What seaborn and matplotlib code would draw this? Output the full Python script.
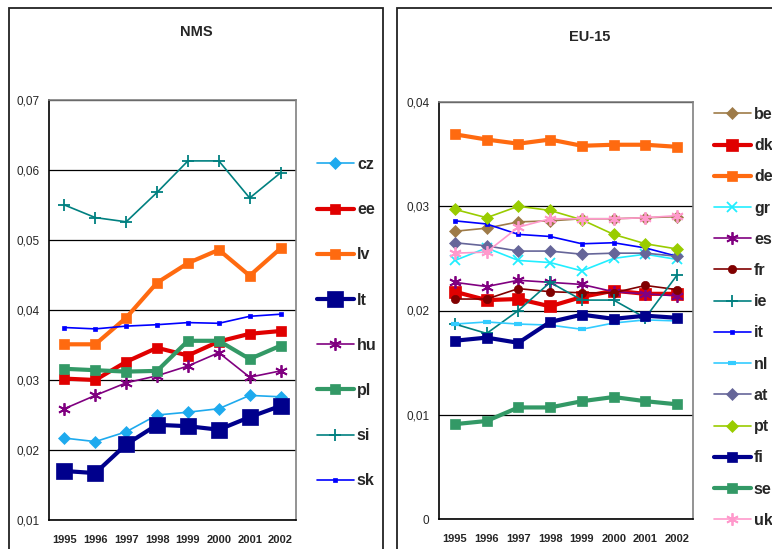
import numpy as np
import pandas as pd
import matplotlib
matplotlib.use("Agg")
import matplotlib.pyplot as plt
import seaborn as sns
from matplotlib import font_manager
from matplotlib.patches import Rectangle
from matplotlib.ticker import FuncFormatter, FixedLocator

years = ["1995", "1996", "1997", "1998", "1999", "2000", "2001", "2002"]

# NMS shares
cz = [0.0217, 0.0212, 0.0226, 0.0250, 0.0254, 0.0259, 0.0278, 0.0276]
ee = [0.0302, 0.0300, 0.0326, 0.0346, 0.0335, 0.0355, 0.0366, 0.0370]
lv = [0.0351, 0.0351, 0.0389, 0.0439, 0.0467, 0.0486, 0.0449, 0.0488]
lt = [0.0170, 0.0167, 0.0208, 0.0236, 0.0234, 0.0229, 0.0247, 0.0263]
hu = [0.0259, 0.0278, 0.0296, 0.0306, 0.0320, 0.0339, 0.0304, 0.0313]
pl = [0.0316, 0.0314, 0.0312, 0.0313, 0.0356, 0.0356, 0.0330, 0.0349]
si = [0.0550, 0.0532, 0.0526, 0.0568, 0.0613, 0.0613, 0.0560, 0.0596]
sk = [0.0375, 0.0373, 0.0377, 0.0379, 0.0382, 0.0381, 0.0391, 0.0394]

# EU-15 shares
be = [0.0276, 0.0279, 0.0285, 0.0286, 0.0288, 0.0288, 0.0289, 0.0290]
dk = [0.0218, 0.0210, 0.0211, 0.0204, 0.0213, 0.0219, 0.0216, 0.0216]
de = [0.0369, 0.0364, 0.0360, 0.0364, 0.0358, 0.0359, 0.0359, 0.0357]
gr = [0.0248, 0.0260, 0.0248, 0.0246, 0.0238, 0.0250, 0.0254, 0.0249]
es = [0.0227, 0.0223, 0.0229, 0.0227, 0.0225, 0.0218, 0.0216, 0.0214]
fr = [0.0211, 0.0211, 0.0221, 0.0218, 0.0217, 0.0217, 0.0224, 0.0220]
ie = [0.0187, 0.0178, 0.0200, 0.0227, 0.0210, 0.0210, 0.0193, 0.0234]
it = [0.0286, 0.0283, 0.0273, 0.0271, 0.0264, 0.0265, 0.0260, 0.0252]
nl = [0.0187, 0.0189, 0.0187, 0.0186, 0.0182, 0.0188, 0.0191, 0.0190]
at = [0.0265, 0.0262, 0.0257, 0.0257, 0.0254, 0.0255, 0.0255, 0.0252]
pt = [0.0297, 0.0289, 0.0300, 0.0296, 0.0287, 0.0273, 0.0264, 0.0259]
fi = [0.0171, 0.0174, 0.0169, 0.0189, 0.0196, 0.0192, 0.0195, 0.0193]
se = [0.0091, 0.0094, 0.0107, 0.0107, 0.0113, 0.0117, 0.0113, 0.0110]
uk = [0.0255, 0.0256, 0.0280, 0.0288, 0.0288, 0.0288, 0.0289, 0.0291]

nms_names = ["cz", "ee", "lv", "lt", "hu", "pl", "si", "sk"]
nms_data = [cz, ee, lv, lt, hu, pl, si, sk]
eu_names = ["be", "dk", "de", "gr", "es", "fr", "ie", "it", "nl", "at", "pt", "fi", "se", "uk"]
eu_data = [be, dk, de, gr, es, fr, ie, it, nl, at, pt, fi, se, uk]

aster = (6, 2, 0)
# name: (color, marker, markersize, linewidth)
styles = {
    "cz": ("#1eaaee", "D", 6, 1.2),
    "ee": ("#e00000", "s", 7, 3.0),
    "lv": ("#ff6a10", "s", 7, 3.0),
    "lt": ("#00008c", "s", 11, 3.0),
    "hu": ("#800080", aster, 9, 1.2),
    "pl": ("#339966", "s", 7, 3.0),
    "si": ("#008080", "+", 9, 1.2),
    "sk": ("#0000ff", "s", 3.5, 1.2),
    "be": ("#9e7b48", "D", 6, 1.2),
    "dk": ("#e00000", "s", 9, 3.0),
    "de": ("#ff6a10", "s", 7, 3.0),
    "gr": ("#22eeff", "x", 7, 1.2),
    "es": ("#800080", aster, 9, 1.2),
    "fr": ("#800000", "o", 6, 1.2),
    "ie": ("#008080", "+", 9, 1.2),
    "it": ("#0000ff", "s", 3.5, 1.2),
    "nl": ("#33ccff", "_", 6, 1.2),
    "at": ("#666699", "D", 6, 1.2),
    "pt": ("#99cc00", "D", 6, 1.2),
    "fi": ("#00008c", "s", 7, 3.0),
    "se": ("#339966", "s", 7, 3.0),
    "uk": ("#ff99cc", aster, 9, 1.2),
}

sns.set_style("white")
installed = {f.name for f in font_manager.fontManager.ttflist}
narrow = "Liberation Sans Narrow" if "Liberation Sans Narrow" in installed else "Liberation Sans"
plt.rcParams["font.family"] = ["Liberation Sans", "DejaVu Sans"]

W, H = 772, 549
fig = plt.figure(figsize=(W / 100, H / 100), dpi=100)

# panel frames
fig.patches.append(Rectangle((9 / W, -0.1), 374 / W, 1.1 - 8 / H, transform=fig.transFigure,
                             fill=False, ec="#222222", lw=1.3))
fig.patches.append(Rectangle((397 / W, -0.1), 400 / W, 1.1 - 8 / H, transform=fig.transFigure,
                             fill=False, ec="#222222", lw=1.3))


def comma(v, pos):
    if abs(v) < 1e-9:
        return "0"
    return f"{v:.2f}".replace(".", ",")


def panel(rect, names, data, ylim, title, title_xy, leg_xy, spacing):
    ax = fig.add_axes([rect[0] / W, 1 - rect[3] / H, (rect[2] - rect[0]) / W, (rect[3] - rect[1]) / H])
    xpos = np.arange(len(years))
    for name, vals in zip(names, data):
        col, mk, ms, lw = styles[name]
        df = pd.DataFrame({"x": xpos, "y": vals})
        thin_marker = mk in ("+", "x", "_") or isinstance(mk, tuple)
        sns.lineplot(data=df, x="x", y="y", ax=ax, color=col, lw=lw, marker=mk,
                     markersize=ms, markeredgecolor=col,
                     markeredgewidth=(1.3 if thin_marker else 0.5) if mk != "_" else 3,
                     label=name)
    ax.set_xlim(-0.5, len(years) - 0.5)
    ax.set_ylim(*ylim)
    ax.yaxis.set_major_locator(FixedLocator(np.arange(ylim[0], ylim[1] + 1e-9, 0.01)))
    ax.yaxis.set_major_formatter(FuncFormatter(comma))
    ax.grid(axis="y", color="black", lw=0.9)
    ax.set_axisbelow(True)
    ax.xaxis.set_major_locator(FixedLocator(np.arange(-0.5, len(years), 1.0)))
    ax.xaxis.set_major_formatter(FuncFormatter(lambda v, p: ""))
    ax.set_xticks(xpos, minor=True)
    ax.set_xticklabels(years, minor=True, fontsize=8, fontweight="bold", family=narrow)
    ax.tick_params(axis="x", which="major", direction="out", length=4, width=1, color="black")
    ax.tick_params(axis="x", which="minor", length=0, pad=11)
    ax.tick_params(axis="y", direction="out", length=4, width=1, color="black", pad=3, labelsize=8.5)
    for lab in ax.get_yticklabels():
        lab.set_family(narrow)
    ax.set_xlabel("")
    ax.set_ylabel("")
    for s in ["left", "bottom"]:
        ax.spines[s].set_color("black")
        ax.spines[s].set_linewidth(1.2)
    for s in ["right", "top"]:
        ax.spines[s].set_color("#808080")
        ax.spines[s].set_linewidth(1.2)
    fig.text(title_xy[0] / W, 1 - title_xy[1] / H, title, ha="center", va="center",
             fontsize=10.5, fontweight="bold", family=narrow)
    handles, labels = ax.get_legend_handles_labels()
    ax.legend(handles, labels, loc="upper left", bbox_to_anchor=(leg_xy[0] / W, 1 - leg_xy[1] / H),
              bbox_transform=fig.transFigure, frameon=False, borderpad=0, borderaxespad=0,
              handlelength=2.3, handletextpad=0.2, labelspacing=spacing, numpoints=1,
              prop={"size": 11.5, "weight": "bold"})
    return ax


panel((49, 100, 296, 520), nms_names, nms_data, (0.01, 0.07), "NMS", (196, 32), (317, 157), 1.89)
panel((439, 102, 693, 519), eu_names, eu_data, (0.0, 0.04), "EU-15", (590, 37), (714, 107), 1.015)

fig.savefig("out.png", dpi=100)
